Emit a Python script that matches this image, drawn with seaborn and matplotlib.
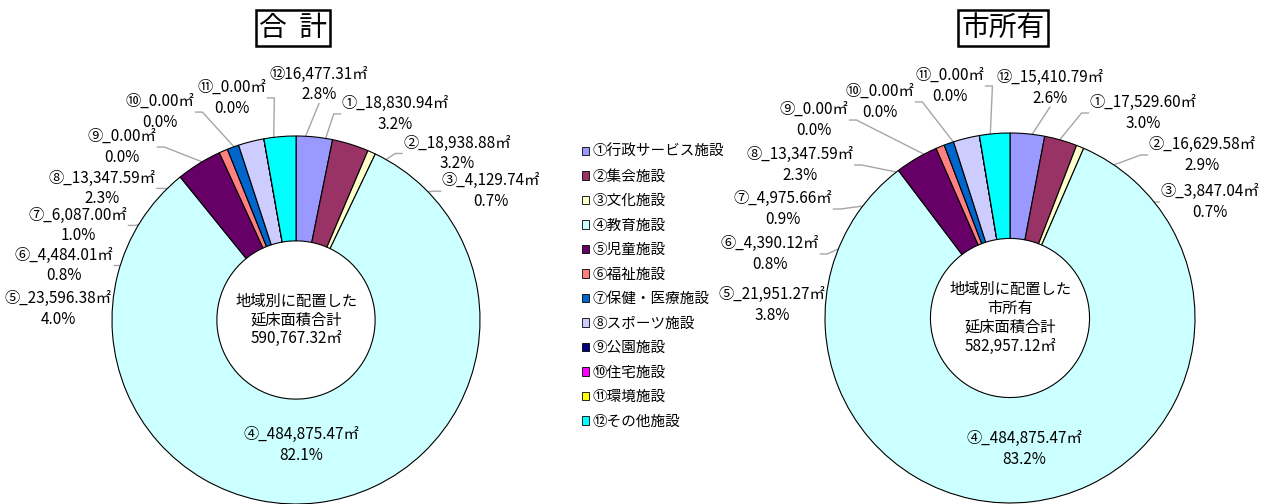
import numpy as np
import matplotlib
matplotlib.use("Agg")
import matplotlib.pyplot as plt
from matplotlib.patches import Patch
import seaborn as sns

# 施設分類
marks = ["①", "②", "③", "④", "⑤", "⑥", "⑦", "⑧", "⑨", "⑩", "⑪", "⑫"]
categories = ["行政サービス施設", "集会施設", "文化施設", "教育施設", "児童施設", "福祉施設",
              "保健・医療施設", "スポーツ施設", "公園施設", "住宅施設", "環境施設", "その他施設"]

# 延床面積(㎡)
total_area = [18830.94, 18938.88, 4129.74, 484875.47, 23596.38, 4484.01,
              6087.00, 13347.59, 0.00, 0.00, 0.00, 16477.31]
city_area = [17529.60, 16629.58, 3847.04, 484875.47, 21951.27, 4390.12,
             4975.66, 13347.59, 0.00, 0.00, 0.00, 15410.79]

colors = ["#9999FF", "#993366", "#FFFFCC", "#CCFFFF", "#660066", "#FF8080",
          "#0066CC", "#CCCCFF", "#000080", "#FF00FF", "#FFFF00", "#00FFFF"]

# ラベル位置(円の半径を1とした座標)
total_label_xy = [(0.54, 1.12), (0.875, 0.905), (1.06, 0.70), (0.03, -0.68),
                  (-1.293, 0.06), (-1.261, 0.296), (-1.185, 0.514), (-1.054, 0.715),
                  (-0.946, 0.94), (-0.739, 1.13), (-0.348, 1.207), (0.125, 1.28)]
city_label_xy = [(0.719, 1.108), (1.038, 0.881), (1.081, 0.627), (0.076, -0.708),
                 (-1.286, 0.070), (-1.297, 0.346), (-1.227, 0.589), (-1.135, 0.827),
                 (-1.059, 1.070), (-0.703, 1.168), (-0.324, 1.254), (0.216, 1.243)]

sns.set_theme(style="white")
plt.rcParams["font.family"] = ["Noto Sans CJK JP", "DejaVu Sans"]
plt.rcParams["text.color"] = "black"

W, H = 1274, 504
fig = plt.figure(figsize=(W / 100, H / 100), dpi=100)
palette = sns.color_palette(colors)


def make_ax(x0, x1, cx, cy, rx, ry):
    ax = fig.add_axes([x0 / W, 0, (x1 - x0) / W, 1])
    return ax, (x0 - cx) / rx, (x1 - cx) / rx, (cy - H) / ry, cy / ry, rx, ry


def donut(spec, values, label_xy, center_text, no_sep_last=False):
    ax, xa, xb, ya, yb, rx, ry = spec
    wedges, _ = ax.pie(values, colors=palette, startangle=90, counterclock=False,
                       radius=1, wedgeprops=dict(width=0.57, edgecolor="black", linewidth=0.8))
    ax.set_aspect("auto")
    ax.set_xlim(xa, xb)
    ax.set_ylim(ya, yb)
    ax.axis("off")

    total = sum(values)
    texts = []
    for i, (v, (lx, ly)) in enumerate(zip(values, label_xy)):
        sep = "" if (no_sep_last and i == 11) else "_"
        s = f"{marks[i]}{sep}{v:,.2f}㎡\n{v / total * 100:.1f}%"
        t = ax.text(lx, ly, s, ha="center", va="center", fontsize=11, linespacing=1.3)
        texts.append(t)

    ax.text(0, 0, center_text + f"\n{total:,.2f}㎡", ha="center", va="center",
            fontsize=11, linespacing=1.15)

    # 引き出し線
    fig.canvas.draw()
    r = fig.canvas.get_renderer()
    inv = ax.transData.inverted()
    for w, t in zip(wedges, texts):
        ang = np.deg2rad((w.theta1 + w.theta2) / 2)
        px, py = 0.72 * np.cos(ang), 0.72 * np.sin(ang)
        bb = t.get_window_extent(r)
        (bx0, by0), (bx1, by1) = inv.transform([[bb.x0, bb.y0], [bb.x1, bb.y1]])
        my = (by0 + by1) / 2
        tick = 8 / rx
        if px < bx0:
            xs, ys = [px, bx0 - tick, bx0 - 1 / rx], [py, my, my]
        elif px > bx1:
            xs, ys = [px, bx1 + tick, bx1 + 1 / rx], [py, my, my]
        else:
            yy = by0 if py < by0 else by1
            xs, ys = [px, (bx0 + bx1) / 2], [py, yy]
        ax.plot(xs, ys, color="#A6A6A6", lw=1, zorder=0.5)


left = make_ax(0, 560, 296, 320, 184, 184)
right = make_ax(560, W, 1010, 318, 185, 185)
donut(left, total_area, total_label_xy, "地域別に配置した\n延床面積合計", no_sep_last=True)
donut(right, city_area, city_label_xy, "地域別に配置した\n市所有\n延床面積合計")

box = dict(boxstyle="square,pad=0.12", fc="white", ec="black", lw=1.8)
fig.text(293 / W, 1 - 28 / H, "合  計", ha="center", va="center", fontsize=20, bbox=box)
fig.text(1003 / W, 1 - 28 / H, "市所有", ha="center", va="center", fontsize=20, bbox=box)

handles = [Patch(facecolor=c, edgecolor="black", linewidth=0.6, label=m + n)
           for c, m, n in zip(palette, marks, categories)]
fig.legend(handles=handles, loc="upper left", bbox_to_anchor=(582 / W, 1 - 145 / H),
           frameon=False, fontsize=10.5, handlelength=0.5, handleheight=0.5,
           handletextpad=0.25, labelspacing=0.72, borderaxespad=0, borderpad=0)

fig.savefig("out.png", dpi=100)
